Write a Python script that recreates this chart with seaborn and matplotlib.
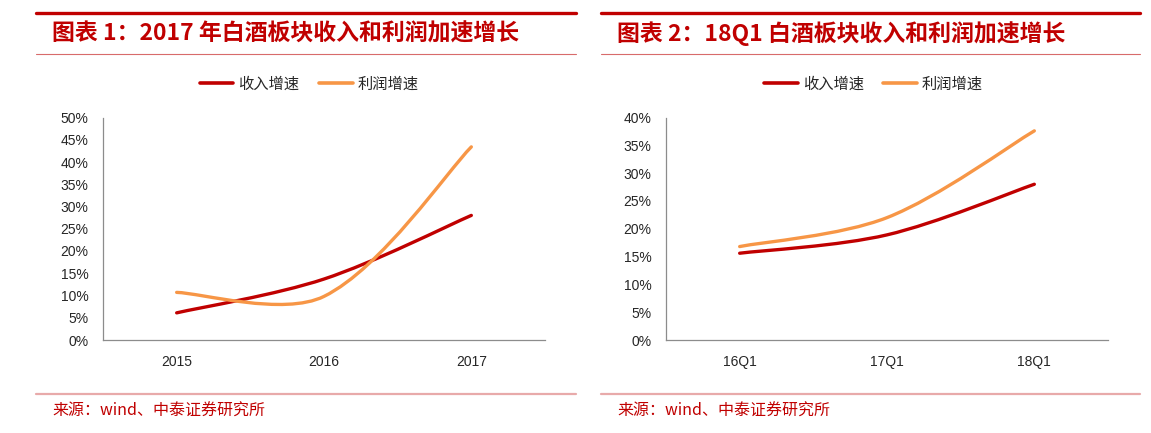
import numpy as np
import pandas as pd
import matplotlib
matplotlib.use("Agg")
import matplotlib.pyplot as plt
import seaborn as sns
from matplotlib.lines import Line2D
from matplotlib.path import Path
from matplotlib.patches import PathPatch

# ---- data ----
years = ["2015", "2016", "2017"]
rev_year = [0.061, 0.137, 0.280]
profit_year = [0.107, 0.098, 0.434]

quarters = ["16Q1", "17Q1", "18Q1"]
rev_q = [0.156, 0.189, 0.280]
profit_q = [0.168, 0.220, 0.376]

series_names = ["收入增速", "利润增速"]
titles = ["图表 1：2017 年白酒板块收入和利润加速增长",
          "图表 2：18Q1 白酒板块收入和利润加速增长"]
source = "来源：wind、中泰证券研究所"

RED = "#C00000"
ORANGE = "#F79646"
GREY = "#8C8C8C"

sns.set_style("white")
plt.rcParams['font.family'] = ['Noto Sans CJK SC', 'DejaVu Sans']

W, H = 1151, 433
fig = plt.figure(figsize=(W / 100, H / 100), dpi=100)


def fx(px):
    return px / W


def fy(py):
    return 1 - py / H


def smooth(ax, line):
    # excel style smoothed line: cubic bezier through the seaborn line's points,
    # control points built in screen space and weighted by segment length
    xy = ax.transData.transform(line.get_xydata())
    n = len(xy)
    pts = np.vstack([xy[0], xy, xy[-1]])
    seg = np.r_[0, np.hypot(*np.diff(xy, axis=0).T), 0]
    verts = [xy[0]]
    codes = [Path.MOVETO]
    for i in range(n - 1):
        p0, p1, p2, p3 = pts[i], pts[i + 1], pts[i + 2], pts[i + 3]
        la, lb, lc = seg[i], seg[i + 1], seg[i + 2]
        w1 = 2 * lb / (la + lb) if la > 0 else 1.0
        w2 = 2 * lb / (lb + lc) if lc > 0 else 1.0
        verts += [p1 + (p2 - p0) / 6 * w1, p2 - (p3 - p1) / 6 * w2, p2]
        codes += [Path.CURVE4] * 3
    verts = ax.transData.inverted().transform(np.array(verts))
    patch = PathPatch(Path(verts, codes), facecolor="none",
                      edgecolor=line.get_color(), lw=line.get_linewidth(),
                      capstyle="round", joinstyle="round", zorder=3)
    ax.add_patch(patch)
    line.set_visible(False)


def panel(left_px, cats, rev, profit, ymax, panel_x0, panel_x1, title):
    ax = fig.add_axes([fx(left_px), fy(340), fx(442), (340 - 117.5) / H])
    df = pd.DataFrame({
        "pos": list(range(len(cats))) * 2,
        "value": rev + profit,
        "series": [series_names[0]] * len(cats) + [series_names[1]] * len(cats),
    })
    sns.lineplot(data=df, x="pos", y="value", hue="series",
                 palette=[RED, ORANGE], lw=2.4, legend=False, ax=ax)

    ax.set_xlim(-0.5, len(cats) - 0.5)
    ax.set_ylim(0, ymax)
    for ln in ax.lines:
        smooth(ax, ln)

    ax.set_yticks(np.arange(0, ymax + 0.001, 0.05))
    ax.set_yticklabels([f"{int(round(v * 100))}%" for v in np.arange(0, ymax + 0.001, 0.05)])
    ax.set_xticks(range(len(cats)))
    ax.set_xticklabels(cats)
    ax.set_xticks(np.arange(-0.5, len(cats), 1.0), minor=True)
    ax.tick_params(axis="x", which="major", length=0, pad=11, labelsize=10)
    ax.tick_params(axis="x", which="minor", length=3.8, color=GREY, direction="out")
    ax.tick_params(axis="y", length=3.8, color=GREY, direction="out", pad=6.5, labelsize=10)
    for lab in ax.get_xticklabels() + ax.get_yticklabels():
        lab.set_fontfamily("Liberation Sans")
    ax.set_xlabel("")
    ax.set_ylabel("")
    for s in ["top", "right"]:
        ax.spines[s].set_visible(False)
    for s in ["left", "bottom"]:
        ax.spines[s].set_color(GREY)
        ax.spines[s].set_linewidth(0.9)

    handles = [Line2D([], [], color=RED, lw=2.6), Line2D([], [], color=ORANGE, lw=2.6)]
    ax.legend(handles, series_names, loc="center",
              bbox_to_anchor=(fx((panel_x0 + panel_x1) / 2 + 3), fy(84)),
              bbox_transform=fig.transFigure, ncol=2, frameon=False,
              fontsize=11, handlelength=2.2, handletextpad=0.3, columnspacing=1.3)

    # header / footer decoration
    fig.add_artist(Line2D([fx(panel_x0), fx(panel_x1)], [fy(13), fy(13)],
                          color=RED, lw=2.4, transform=fig.transFigure))
    fig.add_artist(Line2D([fx(panel_x0), fx(panel_x1)], [fy(54), fy(54)],
                          color="#D86B6B", lw=0.8, transform=fig.transFigure))
    fig.add_artist(Line2D([fx(panel_x0), fx(panel_x1)], [fy(394), fy(394)],
                          color="#E8AAAA", lw=1.6, transform=fig.transFigure))
    fig.text(fx(panel_x0 + 16), fy(34), title, color=RED, fontsize=16.5,
             fontweight="bold", va="center", ha="left")
    fig.text(fx(panel_x0 + 16), fy(411), source, color=RED, fontsize=11.5,
             va="center", ha="left")
    return ax


panel(103, years, rev_year, profit_year, 0.5, 36, 576, titles[0])
panel(666, quarters, rev_q, profit_q, 0.4, 601, 1140, titles[1])

fig.savefig("out.png", dpi=100)
